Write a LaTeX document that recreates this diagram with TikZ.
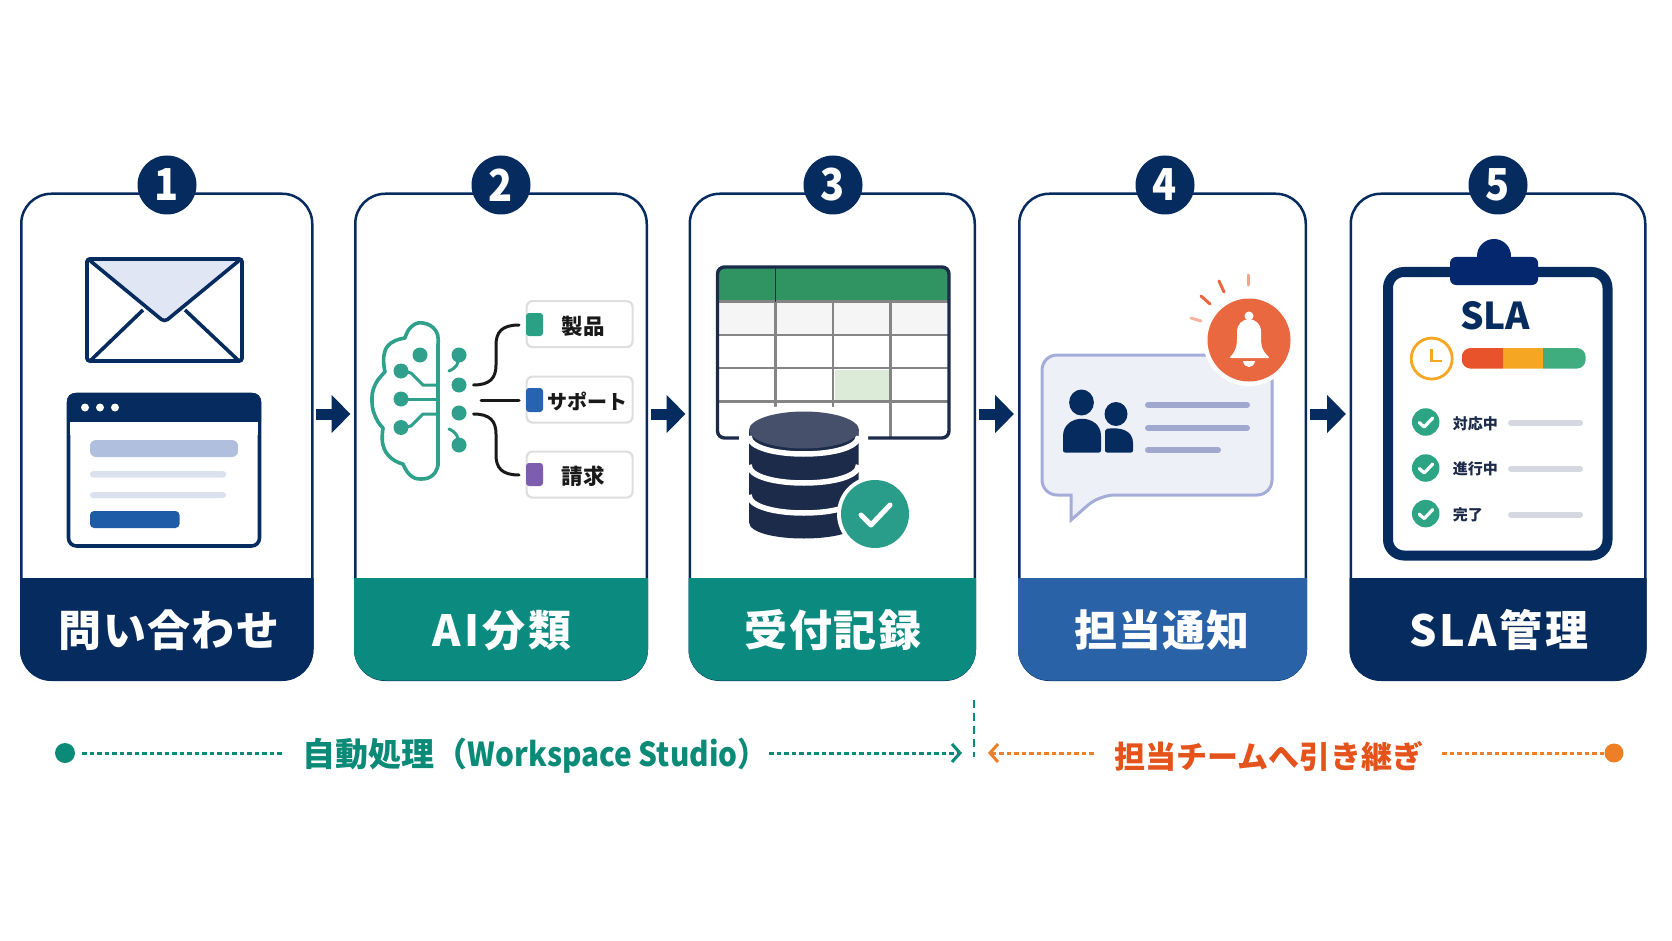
\documentclass[tikz,border=0pt]{standalone}
\usepackage{fontspec}
\setmainfont{Noto Sans CJK JP}
\usetikzlibrary{arrows.meta}
\definecolor{navy}{HTML}{062B5E}
\definecolor{tealband}{HTML}{0B8A80}
\definecolor{blueband}{HTML}{2A62A8}
\definecolor{brain}{HTML}{2FA08B}
\definecolor{dbdark}{HTML}{1C2B4A}
\definecolor{dbtop}{HTML}{46506A}
\definecolor{bubble}{HTML}{EEF0F8}
\definecolor{bubbleline}{HTML}{A4ADDA}
\definecolor{bubbletext}{HTML}{A0A8D0}
\definecolor{bellred}{HTML}{E9683F}
\definecolor{orangeT}{HTML}{E5531C}
\definecolor{orangeD}{HTML}{EE7F26}
\definecolor{teallabel}{HTML}{0B8A78}
\definecolor{flap}{HTML}{E0E6F3}
\definecolor{formbar}{HTML}{B0BFDD}
\definecolor{formline}{HTML}{DCE1EE}
\definecolor{formbtn}{HTML}{1F5CA8}
\definecolor{sheethead}{HTML}{2F9462}
\definecolor{sheetpick}{HTML}{DCEBD8}
\definecolor{chipT}{HTML}{2AA085}
\definecolor{chipB}{HTML}{2763B0}
\definecolor{chipV}{HTML}{7D5DAE}
\definecolor{amber}{HTML}{F5A623}
\definecolor{barR}{HTML}{E8532B}
\definecolor{barG}{HTML}{3FAD7E}
\definecolor{rowgray}{HTML}{D5D8E0}
\newcommand{\fsz}[1]{\fontsize{#1}{#1}\selectfont}
\tikzset{
  x=1pt,y=-1pt,
  cardbox/.style={draw=navy,line width=2.5pt,fill=white,rounded corners=30pt,inner sep=0pt},
  numdot/.style={circle,fill=navy,text=white,minimum size=59pt,inner sep=0pt,font=\fsz{44}\bfseries\addfontfeature{FakeStretch=.9}},
  bandtext/.style={text=white,inner sep=0pt,font=\fsz{43}\bfseries},
  flow/.style={line width=11pt,draw=navy,-{Triangle[length=19pt,width=37pt]}},
  tagbox/.style={draw=black!13,fill=white,line width=2.2pt,rounded corners=6pt,minimum width=106pt,minimum height=46pt,inner sep=0pt},
  tagtext/.style={inner sep=0pt,text=black!90,font=\fsz{21.5}\bfseries},
  branch/.style={draw=black!90,line width=3pt,line cap=round},
  circuit/.style={draw=brain,line width=3pt,line cap=round},
  sheetgrid/.style={draw=black!48,line width=2.4pt},
  rowlabel/.style={inner sep=0pt,text=dbdark,font=\fsz{15}\bfseries},
  barline/.style={draw=#1,line width=6pt,line cap=round},
  autoflow/.style={draw=teallabel,line width=3pt,dash pattern=on 4.5pt off 3pt},
  handoff/.style={draw=orangeD,line width=3pt,dash pattern=on 4.5pt off 3pt},
}
\newcommand{\flowcard}[9]{% name x0 x1 colour label labelx numx number spacing
  \node[cardbox,minimum width={#3-#2-2.5},minimum height=486pt,anchor=north west] (card#1) at (#2,192.5) {};
  \begin{scope}
    \clip ({#2-5},578) rectangle ({#3+5},690);
    \draw[#4,fill=#4,line width=2.5pt,rounded corners=30pt] ({#2+1.25},300) rectangle ({#3-1.25},679.25);
  \end{scope}
  \node[bandtext] (band#1) at (#6,630) {\addfontfeature{LetterSpace=#9}#5};
  \node[numdot] (num#1) at (#7,185) {#8};
}
\newcommand{\smallcheck}[3]{% name x y
  \node[circle,fill=brain!95!green,minimum size=27.5pt,inner sep=0pt] (#1) at (#2,#3) {};
  \draw[white,line width=3.2pt,line cap=round,line join=round] ({#2-6.5},{#3+0.5}) -- ({#2-1.5},{#3+5}) -- ({#2+7},{#3-4});
}
\begin{document}
\begin{tikzpicture}
\useasboundingbox (0,0) rectangle (1672,941);
\fill[white] (0,0) rectangle (1672,941);

% cards
\flowcard{A}{20}{313.5}{navy}{問い合わせ}{169}{167}{1}{3}
\flowcard{B}{354}{648}{tealband}{AI分類}{502}{501}{2}{7}
\flowcard{C}{688.5}{976}{tealband}{受付記録}{833}{833}{3}{4}
\flowcard{D}{1018}{1307}{blueband}{担当通知}{1162}{1165}{4}{3}
\flowcard{E}{1349.5}{1646.5}{navy}{SLA管理}{1499}{1498}{5}{7}

% arrows between cards
\coordinate (a1s) at (316,414); \coordinate (a1e) at (350.5,414);
\coordinate (a2s) at (651,414); \coordinate (a2e) at (685.5,414);
\coordinate (a3s) at (979,414); \coordinate (a3e) at (1014,414);
\coordinate (a4s) at (1310,414); \coordinate (a4e) at (1346,414);
\draw[flow] (a1s) -- (a1e);
\draw[flow] (a2s) -- (a2e);
\draw[flow] (a3s) -- (a3e);
\draw[flow] (a4s) -- (a4e);

% --- card 1: envelope
\draw[navy,line width=3.6pt,fill=white,rounded corners=3pt] (87,259) rectangle (242,361);
\draw[navy,line width=3.6pt,line join=round] (90,361) -- (143,310);
\draw[navy,line width=3.6pt,line join=round] (239,361) -- (185,310);
\draw[navy,line width=3.6pt,fill=flap,rounded corners=4pt] (88,259) -- (164.5,322) -- (241,259) -- cycle;
\draw[navy,line width=3.6pt,rounded corners=3pt] (87,259) rectangle (242,361);
% browser
\draw[navy,line width=3.6pt,fill=white,rounded corners=8pt] (68.5,394.5) rectangle (259.5,546);
\fill[navy,rounded corners=8pt] (67,393) rectangle (261,430);
\fill[white] (70,421.5) rectangle (258,435);
\foreach \px in {85,100,115} \fill[white] (\px,407.5) circle[radius=4];
\fill[formbar,rounded corners=6pt] (90,440) rectangle (238,457);
\fill[formline,rounded corners=3pt] (90,471) rectangle (226,477.5);
\fill[formline,rounded corners=3pt] (90,492) rectangle (226,498);
\fill[formbtn,rounded corners=4pt] (90,511) rectangle (179.5,528);

% --- card 2: brain
\draw[brain,line width=3.6pt,line cap=round,line join=round]
  plot[smooth,tension=.8] coordinates {(438,345)(436,331)(423,323)(411,327)(405,338)};
\draw[brain,line width=3.6pt,line cap=round]
  plot[smooth,tension=.8] coordinates {(405,338)(391,343)(384,355)(385,372)};
\draw[brain,line width=3.6pt,line cap=round]
  plot[smooth,tension=.8] coordinates {(385,372)(375,385)(372,402)(376,418)(383,428)};
\draw[brain,line width=3.6pt,line cap=round]
  plot[smooth,tension=.8] coordinates {(383,428)(383,445)(391,458)(403,464)};
\draw[brain,line width=3.6pt,line cap=round]
  plot[smooth,tension=.8] coordinates {(403,464)(410,475)(421,479)(433,475)(438,465)};
\draw[brain,line width=3.6pt,line cap=round] (438,345) -- (438,465);
\draw[circuit] (401,371) -- (411,373) -- (423,385) -- (438,385);
\draw[circuit] (401,399) -- (438,399);
\draw[circuit] (401,427.5) -- (411,426) -- (423,414) -- (438,414);
\foreach \px/\py in {420/355,401/371,401/399,401/427.5,459/355,459/385,459/413,459/445}
  \fill[brain] (\px,\py) circle[radius=7.5];
\draw[circuit] (449,371) .. controls (456,368) and (459,364) .. (459,355);
\draw[circuit] (449,429) .. controls (456,432) and (459,437) .. (459,445);

% category tags
\node[tagbox,anchor=north west] (tagP) at (525.5,300) {};
\node[tagbox,anchor=north west] (tagS) at (525.5,375.5) {};
\node[tagbox,anchor=north west] (tagB) at (525.5,450.5) {};
\fill[chipT,rounded corners=3pt] (526,313) rectangle (543,336);
\fill[chipB,rounded corners=3pt] (526,388) rectangle (543,412);
\fill[chipV,rounded corners=3pt] (526,463) rectangle (543,486);
\node[tagtext] (tagPt) at (583,326) {製品};
\node[tagtext,font=\fsz{20}\bfseries] (tagSt) at (587,401) {サポート};
\node[tagtext] (tagBt) at (583,476) {請求};
\coordinate (brP) at (473.5,385); \coordinate (brS) at (481,400); \coordinate (brB) at (473.5,414);
\coordinate (tgP) at (519,325); \coordinate (tgS) at (519,400); \coordinate (tgB) at (519,475);
\draw[branch] (brP) .. controls (490,385) and (496,378) .. (496,365) -- (496,345) .. controls (496,332) and (502,325) .. (tgP);
\draw[branch] (brS) -- (tgS);
\draw[branch] (brB) .. controls (490,414) and (496,421) .. (496,434) -- (496,455) .. controls (496,468) and (502,475) .. (tgB);

% --- card 3: sheet
\fill[white] (717.5,267) rectangle (949,438);
\fill[sheethead,rounded corners=3pt] (717.5,267) rectangle (949,301.5);
\fill[black!4] (719,301.5) rectangle (947,335);
\fill[sheetpick] (834.5,370) rectangle (889,400);
\foreach \py in {301.5,335,368,401.5} \draw[sheetgrid] (717.5,\py) -- (949,\py);
\foreach \px in {833,890.5} \draw[sheetgrid] (\px,301.5) -- (\px,438);
\draw[sheetgrid] (775.5,301.5) -- (775.5,438);
\draw[dbdark,line width=1.8pt] (775.5,268) -- (775.5,301.5);
\draw[dbdark,line width=3.4pt,rounded corners=7pt] (717.5,267) rectangle (949,438);
% database
\fill[white] (739,430) -- (739,525) .. controls (739,553) and (868,553) .. (868,525) -- (868,430) .. controls (868,396) and (739,396) .. (739,430) -- cycle;
\fill[dbdark] (749,430) -- (749,522) .. controls (749,544) and (858.5,544) .. (858.5,522) -- (858.5,430) -- cycle;
\foreach \py in {436,465,495}
  \draw[white,line width=5.5pt] (749,\py) .. controls (749,{\py+24}) and (858.5,{\py+24}) .. (858.5,\py);
\fill[dbtop] (804,430) ellipse[x radius=55,y radius=18.5];
\node[circle,fill=white,minimum size=76pt,inner sep=0pt] (okhalo) at (875,514) {};
\node[circle,fill=brain!90!teal,minimum size=68pt,inner sep=0pt] (okdot) at (875,514) {};
\draw[white,line width=5pt,line cap=round,line join=round] (861,515) -- (871,525) -- (890,505);

% --- card 4: bubble
\draw[bubbleline,fill=bubble,line width=3pt,rounded corners=15pt]
  (1042,355) -- (1272,355) -- (1272,495) -- (1099.5,495) [sharp corners] -- (1071,520) -- (1071,495) [rounded corners=15pt] -- (1042,495) -- cycle;
\fill[navy] (1081.5,402.5) ellipse[x radius=12.4,y radius=13];
\fill[navy] (1116,414) ellipse[x radius=11.5,y radius=12];
\fill[navy,rounded corners=2pt] (1063,452.5) -- (1063,438) .. controls (1063,413) and (1101,413) .. (1101,438) -- (1101,452.5) -- cycle;
\fill[navy,rounded corners=2pt] (1105,452.5) -- (1105,429) .. controls (1120,427) and (1133,430) .. (1133,445) -- (1133,452.5) -- cycle;
\foreach \py/\pe in {405/1247,428/1247,450/1218}
  \draw[bubbletext,line width=6pt,line cap=round] (1148,\py) -- (\pe,\py);
\node[circle,fill=white,minimum size=92pt,inner sep=0pt] (bellhalo) at (1249,340) {};
\node[circle,fill=bellred,minimum size=83pt,inner sep=0pt] (belldot) at (1249,340) {};
\fill[white] (1249,316) circle[radius=4.5];
\fill[white,rounded corners=2pt] (1229,358) .. controls (1237,350) and (1237,344) .. (1237,334) .. controls (1237,315) and (1261,315) .. (1261,334) .. controls (1261,344) and (1261,350) .. (1270,358) -- cycle;
\fill[white] (1243,361) .. controls (1244,369) and (1254,369) .. (1255,361) -- cycle;
\draw[bellred!60!white,line width=3pt,line cap=round] (1248,275) -- (1248,285);
\draw[bellred,line width=3pt,line cap=round] (1219,281) -- (1224,292);
\draw[bellred,line width=3pt,line cap=round] (1201,296) -- (1210,304);
\draw[bellred!50!white,line width=3pt,line cap=round] (1191,318) -- (1201,321);

% --- card 5: clipboard
\draw[navy,line width=10pt,fill=white,rounded corners=16pt] (1388,272) rectangle (1607.5,555.5);
\fill[navy!90!blue] (1494,256) circle[radius=17];
\fill[navy!90!blue,rounded corners=6pt] (1450,257) rectangle (1538,285);
\node[inner sep=0pt,text=navy,font=\fsz{37}\bfseries] (slat) at (1495,316) {SLA};
\node[circle,draw=amber,line width=2.8pt,minimum size=41pt,inner sep=0pt] (clock) at (1431.7,358.6) {};
\draw[amber,line width=2.6pt] (1431.7,349) -- (1431.7,361) -- (1441.7,361);
\begin{scope}
  \clip[rounded corners=9pt] (1461.7,348) rectangle (1585.7,368.6);
  \fill[barR] (1461.7,348) rectangle (1503,368.6);
  \fill[amber] (1503,348) rectangle (1543,368.6);
  \fill[barG] (1543,348) rectangle (1585.7,368.6);
\end{scope}
\smallcheck{ck1}{1425.7}{422}
\smallcheck{ck2}{1425.7}{468}
\smallcheck{ck3}{1425.7}{513.6}
\node[rowlabel,anchor=west] (rl1) at (1452.7,424) {対応中};
\node[rowlabel,anchor=west] (rl2) at (1452.7,469) {進行中};
\node[rowlabel,anchor=west] (rl3) at (1452.7,515) {完了};
\draw[barline=rowgray] (1511,423) -- (1580,423);
\draw[barline=rowgray] (1511,469) -- (1580,469);
\draw[barline=rowgray] (1511,514.6) -- (1580,514.6);

% --- bottom: hand-off ruler
\node[circle,fill=teallabel,minimum size=20pt,inner sep=0pt] (autoStart) at (65,753) {};
\node[inner sep=0pt,text=teallabel,font=\bfseries] (autoText) at (535,756) {\fsz{33}自動処理（\addfontfeature{FakeStretch=.9}Workspace Studio）};
\coordinate (autoEnd) at (962,753);
\coordinate (autoGapL) at (281.5,753); \coordinate (autoGapR) at (769,753);
\coordinate (divTop) at (973.5,700); \coordinate (divBot) at (973.5,757);
\node[circle,fill=orangeD,minimum size=19pt,inner sep=0pt] (handStart) at (1614,753) {};
\node[inner sep=0pt,text=orangeT,font=\bfseries] (handText) at (1269,756) {\fsz{31}担当チームへ引き継ぎ};
\coordinate (handEnd) at (988,753);
\coordinate (handGapL) at (1096,753); \coordinate (handGapR) at (1442,753);
\draw[autoflow,shorten <=7pt] (autoStart.east) -- (autoGapL);
\draw[autoflow,-{Straight Barb[length=8pt,width=18pt,line width=3pt]}] (autoGapR) -- (autoEnd);
\draw[handoff,{Straight Barb[length=8pt,width=18pt,line width=3pt]}-] (handEnd) -- (handGapL);
\draw[handoff] (handGapR) -- (handStart.west);
\draw[teallabel,line width=2pt,dash pattern=on 8pt off 5pt] (divTop) -- (divBot);
\end{tikzpicture}
\end{document}
